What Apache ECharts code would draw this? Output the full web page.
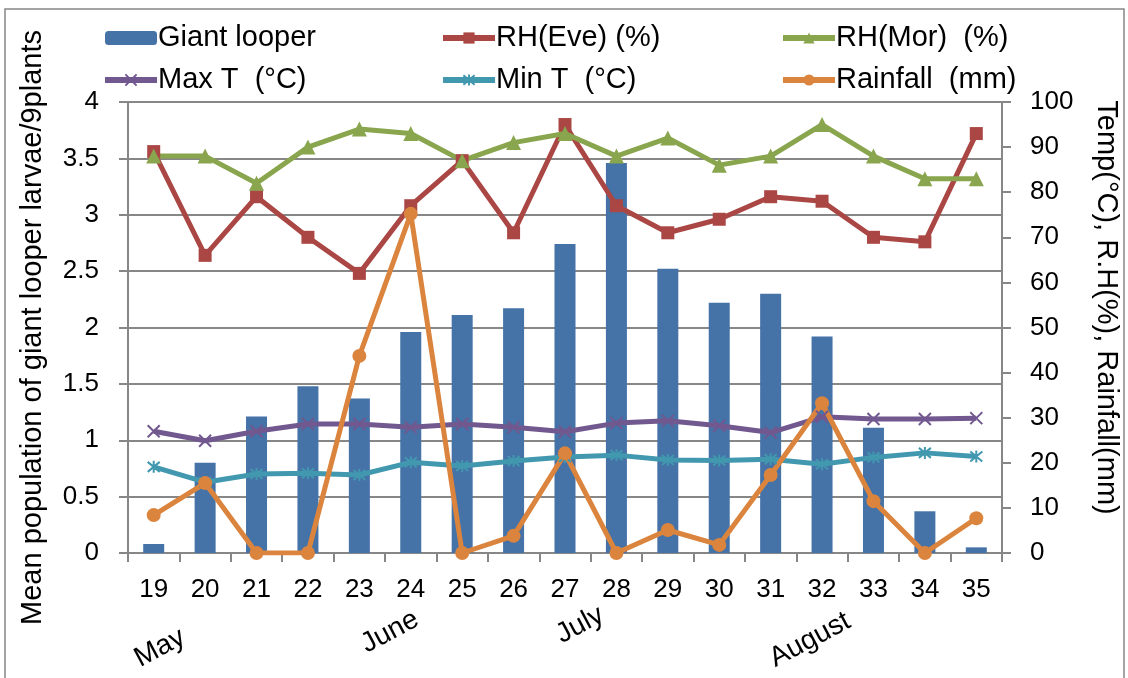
<!DOCTYPE html>
<html>
<head>
<meta charset="utf-8">
<script src="https://cdn.jsdelivr.net/npm/echarts@6/dist/echarts.min.js"></script>
<style>
  html, body { margin: 0; padding: 0; background: #fff; }
  #chart { width: 1128px; height: 678px; }
</style>
</head>
<body>
<div id="chart"></div>
<script>
  // standard weeks
  const weeks = ['19', '20', '21', '22', '23', '24', '25', '26', '27', '28', '29', '30', '31', '32', '33', '34', '35']
  const months = ['May', 'June', 'July', 'August']

  const giantLooper = [0.08, 0.80, 1.21, 1.48, 1.37, 1.96, 2.11, 2.17, 2.74, 3.46, 2.52, 2.22, 2.30, 1.92, 1.11, 0.37, 0.05]
  const rhEve = [89, 66, 79, 70, 62, 77, 87, 71, 95, 77, 71, 74, 79, 78, 70, 69, 93]
  const rhMor = [88, 88, 82, 90, 94, 93, 87, 91, 93, 88, 92, 86, 88, 95, 88, 83, 83]
  const maxT = [27.0, 24.9, 27.0, 28.6, 28.6, 27.9, 28.6, 27.9, 26.9, 28.8, 29.3, 28.2, 26.7, 30.2, 29.7, 29.7, 29.9]
  const minT = [19.1, 15.7, 17.5, 17.7, 17.3, 20.1, 19.3, 20.4, 21.3, 21.7, 20.6, 20.5, 20.8, 19.7, 21.2, 22.2, 21.4]
  const rainfall = [8.4, 15.5, 0, 0, 43.7, 75.2, 0, 3.8, 22.1, 0, 5.1, 1.8, 17.3, 33.2, 11.5, 0, 7.7]

  const font = 'Liberation Sans, Arial, sans-serif'
  const gray = '#878787'
  const fs = 26
  const bigFs = 29

  const crossPath = 'path://M0,0L10,10M10,0L0,10'
  const starPath = 'path://M0,0L10,10M10,0L0,10M5,-1L5,11'

  const myChart = echarts.init(document.getElementById('chart'))

  const lineSeries = (name, data, color, symbol, size, extra) => Object.assign({
    name,
    type: 'line',
    yAxisIndex: 1,
    data,
    symbol,
    symbolSize: size,
    lineStyle: { color, width: 5 },
    itemStyle: { color, borderColor: color, borderWidth: 0 },
    emphasis: { disabled: true },
    z: 3
  }, extra || {})

  const legendBase = {
    orient: 'vertical',
    top: 18,
    itemWidth: 52,
    itemHeight: 14,
    itemGap: 12,
    lineStyle: { width: 6 },
    textStyle: { fontFamily: font, fontSize: bigFs, color: '#000', lineHeight: 30, padding: [0, 0, 0, -4] },
    selectedMode: false
  }

  const option = {
    animation: false,
    textStyle: { fontFamily: font },
    grid: { left: 128, right: 119, top: 102, bottom: 125 },
    legend: [
      Object.assign({ left: 97, data: ['Giant looper', 'Max T  (°C)'] }, legendBase),
      Object.assign({ left: 435, data: ['RH(Eve) (%)', 'Min T  (°C)'] }, legendBase),
      Object.assign({ left: 775, data: ['RH(Mor)  (%)', 'Rainfall  (mm)'] }, legendBase)
    ],
    xAxis: {
      type: 'category',
      data: weeks,
      axisLine: { lineStyle: { color: gray, width: 2 } },
      axisTick: { show: true, length: 9, lineStyle: { color: gray, width: 2 } },
      axisLabel: { color: '#000', fontSize: fs, fontFamily: font, margin: 24 }
    },
    yAxis: [
      {
        type: 'value',
        min: 0,
        max: 4,
        interval: 0.5,
        name: 'Mean population of giant looper larvae/9plants',
        nameLocation: 'middle',
        nameGap: 81,
        nameTextStyle: { color: '#000', fontSize: bigFs, fontFamily: font },
        axisLine: { show: true, lineStyle: { color: gray, width: 2 } },
        axisTick: { show: true, length: 9, lineStyle: { color: gray, width: 2 } },
        axisLabel: { color: '#000', fontSize: fs, fontFamily: font, margin: 29 },
        splitLine: { lineStyle: { color: gray, width: 2 } }
      },
      {
        type: 'value',
        min: 0,
        max: 100,
        interval: 10,
        name: 'Temp(°C), R.H(%), Rainfall(mm)',
        nameLocation: 'middle',
        nameRotate: -90,
        nameGap: 89,
        nameTextStyle: { color: '#000', fontSize: bigFs, fontFamily: font, padding: [0, 40, 0, 0] },
        axisLine: { show: true, lineStyle: { color: gray, width: 2 } },
        axisTick: { show: true, length: 9, lineStyle: { color: gray, width: 2 } },
        axisLabel: { color: '#000', fontSize: fs, fontFamily: font, margin: 28 },
        splitLine: { show: false }
      }
    ],
    series: [
      {
        name: 'Giant looper',
        type: 'bar',
        data: giantLooper,
        barWidth: 21,
        itemStyle: { color: '#4572A7' },
        emphasis: { disabled: true },
        z: 2
      },
      lineSeries('RH(Eve) (%)', rhEve, '#AA4643', 'rect', 13),
      lineSeries('RH(Mor)  (%)', rhMor, '#89A54E', 'triangle', 15),
      lineSeries('Max T  (°C)', maxT, '#71588F', crossPath, 12, { itemStyle: { color: 'none', borderColor: '#71588F', borderWidth: 2 } }),
      lineSeries('Min T  (°C)', minT, '#4198AF', starPath, 12, { itemStyle: { color: 'none', borderColor: '#4198AF', borderWidth: 2 } }),
      lineSeries('Rainfall  (mm)', rainfall, '#DB843D', 'circle', 14)
    ],
    graphic: [
      {
        type: 'rect',
        shape: { x: 5, y: 9, width: 1119, height: 700 },
        style: { fill: 'none', stroke: gray, lineWidth: 1.5 },
        silent: true,
        z: -1
      }
    ].concat(months.map((m, i) => ({
      type: 'text',
      x: [160, 390, 580, 810][i],
      y: [648, 632, 625, 640][i],
      rotation: 28 * Math.PI / 180,
      style: { text: m, fontSize: 28, fontFamily: font, fill: '#000', align: 'center', verticalAlign: 'middle' },
      silent: true
    })))
  }

  myChart.setOption(option)
</script>
</body>
</html>
